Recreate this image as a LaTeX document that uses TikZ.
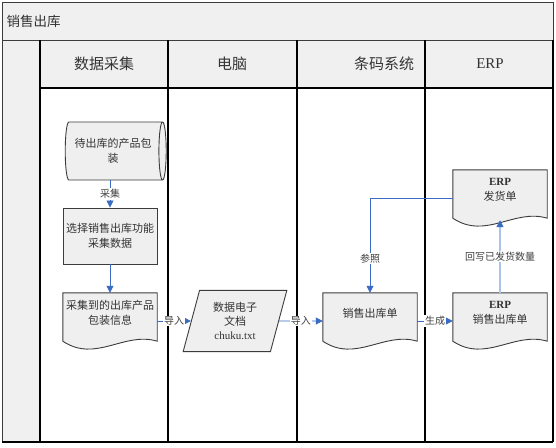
\documentclass[tikz,border=0pt]{standalone}
\usepackage{fontspec}
\setmainfont{Liberation Serif}
\newfontfamily\cjk{Noto Sans CJK SC}
\usepackage{tikz}
\usetikzlibrary{positioning, arrows.meta, shapes.geometric, backgrounds}
\definecolor{lanegray}{HTML}{F0F0F0}
\definecolor{shapegray}{HTML}{EFEFEF}
\definecolor{edgegray}{HTML}{3C3C3C}
\definecolor{flowblue}{HTML}{3B6CC4}
\definecolor{lightblue}{HTML}{A8C4EC}

\tikzset{
  lanetext/.style={text=black!80, font=\cjk\fontsize{15}{17}\selectfont},
  procbox/.style={draw=edgegray, fill=shapegray, line width=0.9pt,
    minimum width=94pt, minimum height=56pt, align=center, inner sep=2pt,
    text=black!80, font=\cjk\fontsize{11}{15}\selectfont},
  docbox/.style={minimum width=94pt, minimum height=40pt, align=center,
    inner sep=2pt, text=black!80, font=\cjk\fontsize{11}{15}\selectfont},
  flow/.style={draw=flowblue, line width=0.8pt,
    -{Triangle[width=7pt, length=7pt, color=flowblue]}},
  flowlabel/.style={fill=white, inner sep=1pt, text=black!75,
    font=\cjk\fontsize{10}{12}\selectfont},
}
% document shape: flat top, wavy bottom below the node
\newcommand\docoutline[1]{%
  \filldraw[draw=edgegray, fill=shapegray, line width=0.9pt]
    (#1.north west) -- (#1.north east) -- ([yshift=-8pt]#1.south east)
    .. controls +(-33pt,10pt) and +(33pt,-22pt) .. ([yshift=-8pt]#1.south west)
    -- cycle;}

\begin{document}
\begin{tikzpicture}[x=1pt, y=-1pt]
  \useasboundingbox (0,0) rectangle (556,447);

  % swimlanes
  \begin{scope}[on background layer]
    \fill[white] (0,0) rectangle (556,447);
    \filldraw[fill=lanegray, draw=edgegray, line width=0.8pt] (2,2) rectangle (553,40);
    \filldraw[fill=lanegray, draw=edgegray, line width=0.8pt] (40,40) rectangle (553,88);
    \filldraw[fill=lanegray, draw=edgegray, line width=0.8pt] (2,40) rectangle (40,442);
    \foreach \x in {40,168,297,425,553}
      \draw[line width=1.2pt] (\x,40) -- (\x,442);
    \draw[line width=1.2pt] (2,442) -- (553,442);
    \draw[line width=1.2pt] (40,88) -- (553,88);
  \end{scope}

  \node[anchor=west, text=black!80, font=\cjk\fontsize{13.5}{15}\selectfont] (title) at (3,21) {销售出库};
  \node[lanetext] (lane1) at (104,64) {数据采集};
  \node[lanetext] (lane2) at (232,64) {电脑};
  \node[lanetext] (lane3) at (384,64) {条码系统};
  \node[lanetext, font=\rmfamily\fontsize{15}{17}\selectfont] (lane4) at (490,64) {ERP};

  % shapes
  \node[cylinder, shape aspect=0.25, draw=edgegray, fill=shapegray, line width=0.9pt,
        minimum height=101pt, minimum width=58pt, align=center, inner sep=2pt,
        text=black!80, font=\cjk\fontsize{11}{15}\selectfont] (pkg) at (113,151)
        {待出库的产品包\\装};
  \node[procbox] (sel) at (110,236) {选择销售出库功能\\采集数据};
  \node[docbox] (raw) at (110,313) {采集到的出库产品\\包装信息};
  \node[trapezium, trapezium left angle=75, trapezium right angle=105,
        draw=edgegray, fill=shapegray, line width=0.9pt, minimum width=104pt,
        minimum height=56pt, align=center, inner sep=2pt, text=black!80,
        font=\cjk\fontsize{11}{14}\selectfont] (file) at (235,321)
        {数据电子\\文档\\{\rmfamily chuku.txt}};
  \node[docbox] (sale) at (370,313) {销售出库单};
  \node[docbox] (erpsale) at (500,313) {{\rmfamily\bfseries ERP}\\销售出库单};
  \node[docbox] (erpship) at (500,190) {{\rmfamily\bfseries ERP}\\发货单};

  \begin{scope}[on background layer]
    \docoutline{raw}
    \docoutline{sale}
    \docoutline{erpsale}
    \docoutline{erpship}
  \end{scope}

  % connectors
  \draw[flow] (sel.north |- pkg.south) -- node[flowlabel] {采集} (sel.north);
  \draw[flow] (sel) -- (raw.north);
  \draw[flow] (raw.east |- file) -- node[flowlabel] {导入} (file);
  \draw[flow] (file) -- node[flowlabel] {导入} (sale.west |- file);
  \draw[flow] (sale.east |- file) -- node[flowlabel] {生成} (erpsale.west |- file);
  \draw[flow, draw=lightblue, line width=1.4pt] (erpsale.north) -- node[flowlabel] {回写已发货数量} ([yshift=-10pt]erpship.south);
  \draw[flow] ([yshift=-8pt]erpship.west) -| node[flowlabel, pos=0.82] {参照} (sale.north);
\end{tikzpicture}
\end{document}
